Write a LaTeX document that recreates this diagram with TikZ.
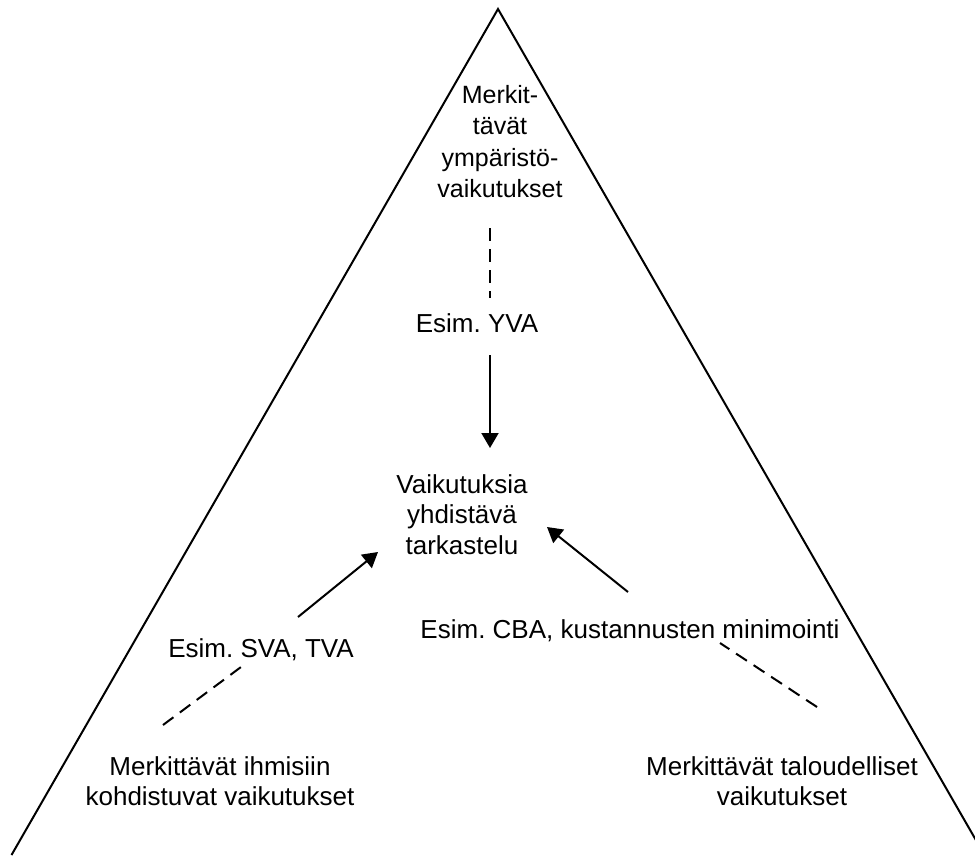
\documentclass[tikz,border=0pt]{standalone}
\usepackage{fontspec}
\setmainfont{Liberation Sans}
\frenchspacing
\usetikzlibrary{arrows.meta}
\begin{document}
\begin{tikzpicture}[x=1pt,y=-1pt,
  side/.style={line width=2pt},
  link/.style={line width=2pt,-{Triangle[length=15pt,width=17pt]}},
  hint/.style={line width=2pt,dash pattern=on 13pt off 8pt},
  lbl/.style={inner sep=0pt,align=center,font=\fontsize{26}{30.5}\selectfont},
  toplbl/.style={inner sep=0pt,align=center,font=\fontsize{25}{31.5}\selectfont}]
  \useasboundingbox (0,0) rectangle (975,855);
  \clip (0,0) rectangle (975,855);

  % the two sides of the triangle
  \coordinate (apex) at (498,9);
  \coordinate (bl) at (11.5,855);
  \coordinate (br) at (984.5,855);
  \draw[side] (bl) -- (apex) -- (br);

  % corner texts
  \node[toplbl,anchor=north] (env) at (500,85) {Merkit-\\tävät\\ympäristö-\\vaikutukset};
  \node[lbl,anchor=north] (soc) at (220,756) {Merkittävät ihmisiin\\kohdistuvat vaikutukset};
  \node[lbl,anchor=north] (eco) at (782,756) {Merkittävät taloudelliset\\vaikutukset};

  % centre text
  \node[lbl,anchor=north] (mid) at (462,474) {Vaikutuksia\\yhdistävä\\tarkastelu};

  % method labels
  \node[lbl,anchor=base] (yva) at (477,332) {Esim. YVA};
  \node[lbl,anchor=base] (sva) at (261,657) {Esim. SVA, TVA};
  \node[lbl,anchor=base] (cba) at (630,638) {Esim. CBA, kustannusten minimointi};

  % connector ends
  \coordinate (envS) at (490,228);
  \coordinate (yvaN) at (490,298);
  \coordinate (yvaS) at (490,355);
  \coordinate (midN) at (490,448);
  \coordinate (socN) at (163,725);
  \coordinate (svaS) at (241,667);
  \coordinate (svaN) at (298,617);
  \coordinate (midSW) at (378,552);
  \coordinate (ecoN) at (817,707);
  \coordinate (cbaS) at (720,643);
  \coordinate (cbaN) at (628,592);
  \coordinate (midSE) at (547,527);

  % dashed links and arrows
  \draw[hint] (envS) -- (yvaN);
  \draw[link] (yvaS) -- (midN);
  \draw[hint] (socN) -- (svaS);
  \draw[link] (svaN) -- (midSW);
  \draw[hint] (ecoN) -- (cbaS);
  \draw[link] (cbaN) -- (midSE);
\end{tikzpicture}
\end{document}
